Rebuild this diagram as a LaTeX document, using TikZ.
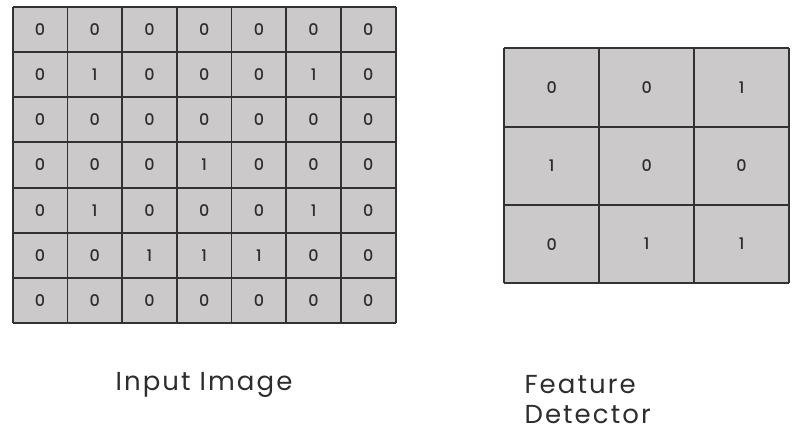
\documentclass[tikz,border=0pt]{standalone}
\usepackage{fontspec}
\setmainfont{Poppins}
\newfontfamily\numfont{Poppins Medium}
\definecolor{cellfill}{RGB}{203,201,201}
\definecolor{gridline}{RGB}{50,50,50}
\definecolor{labeltext}{RGB}{45,45,45}
\begin{document}
\begin{tikzpicture}[x=1pt,y=-1pt,
  cellnum/.style={font=\numfont\fontsize{16}{16}\selectfont, text=labeltext},
  caption/.style={font=\addfontfeature{LetterSpace=8}\fontsize{26}{30}\selectfont, text=labeltext, align=left}]
\useasboundingbox (0,0) rectangle (808,432);
% input image: 7x7 grid
\def\ax{12.7}\def\ay{6.7}\def\aw{54.71}\def\ah{45.23}
\fill[cellfill] (\ax,\ay) rectangle ++(7*\aw,7*\ah);
\foreach \i in {0,...,7}{
  \draw[gridline, line width=1.8pt] (\ax+\i*\aw,\ay) -- ++(0,7*\ah);
  \draw[gridline, line width=1.8pt] (\ax,\ay+\i*\ah) -- ++(7*\aw,0);
}
\foreach \row [count=\r from 0] in {
  {0,0,0,0,0,0,0},
  {0,1,0,0,0,1,0},
  {0,0,0,0,0,0,0},
  {0,0,0,1,0,0,0},
  {0,1,0,0,0,1,0},
  {0,0,1,1,1,0,0},
  {0,0,0,0,0,0,0}}{
  \foreach \v [count=\c from 0] in \row{
    \node[cellnum] (in-\r-\c) at (\ax+\c*\aw+0.5*\aw,\ay+\r*\ah+0.5*\ah) {\v};
  }
}
% feature detector: 3x3 grid
\def\bx{504.3}\def\by{48.3}\def\bw{94.9}\def\bh{78.33}
\fill[cellfill] (\bx,\by) rectangle ++(3*\bw,3*\bh);
\foreach \i in {0,...,3}{
  \draw[gridline, line width=1.8pt] (\bx+\i*\bw,\by) -- ++(0,3*\bh);
  \draw[gridline, line width=1.8pt] (\bx,\by+\i*\bh) -- ++(3*\bw,0);
}
\foreach \row [count=\r from 0] in {
  {0,0,1},
  {1,0,0},
  {0,1,1}}{
  \foreach \v [count=\c from 0] in \row{
    \node[cellnum] (fd-\r-\c) at (\bx+\c*\bw+0.5*\bw,\by+\r*\bh+0.5*\bh) {\v};
  }
}
% captions
\node[caption] (cap-in) at (204,385) {Input Image};
\node[caption, anchor=west] (cap-fd) at (521,400) {Feature\\Detector};
\end{tikzpicture}
\end{document}
